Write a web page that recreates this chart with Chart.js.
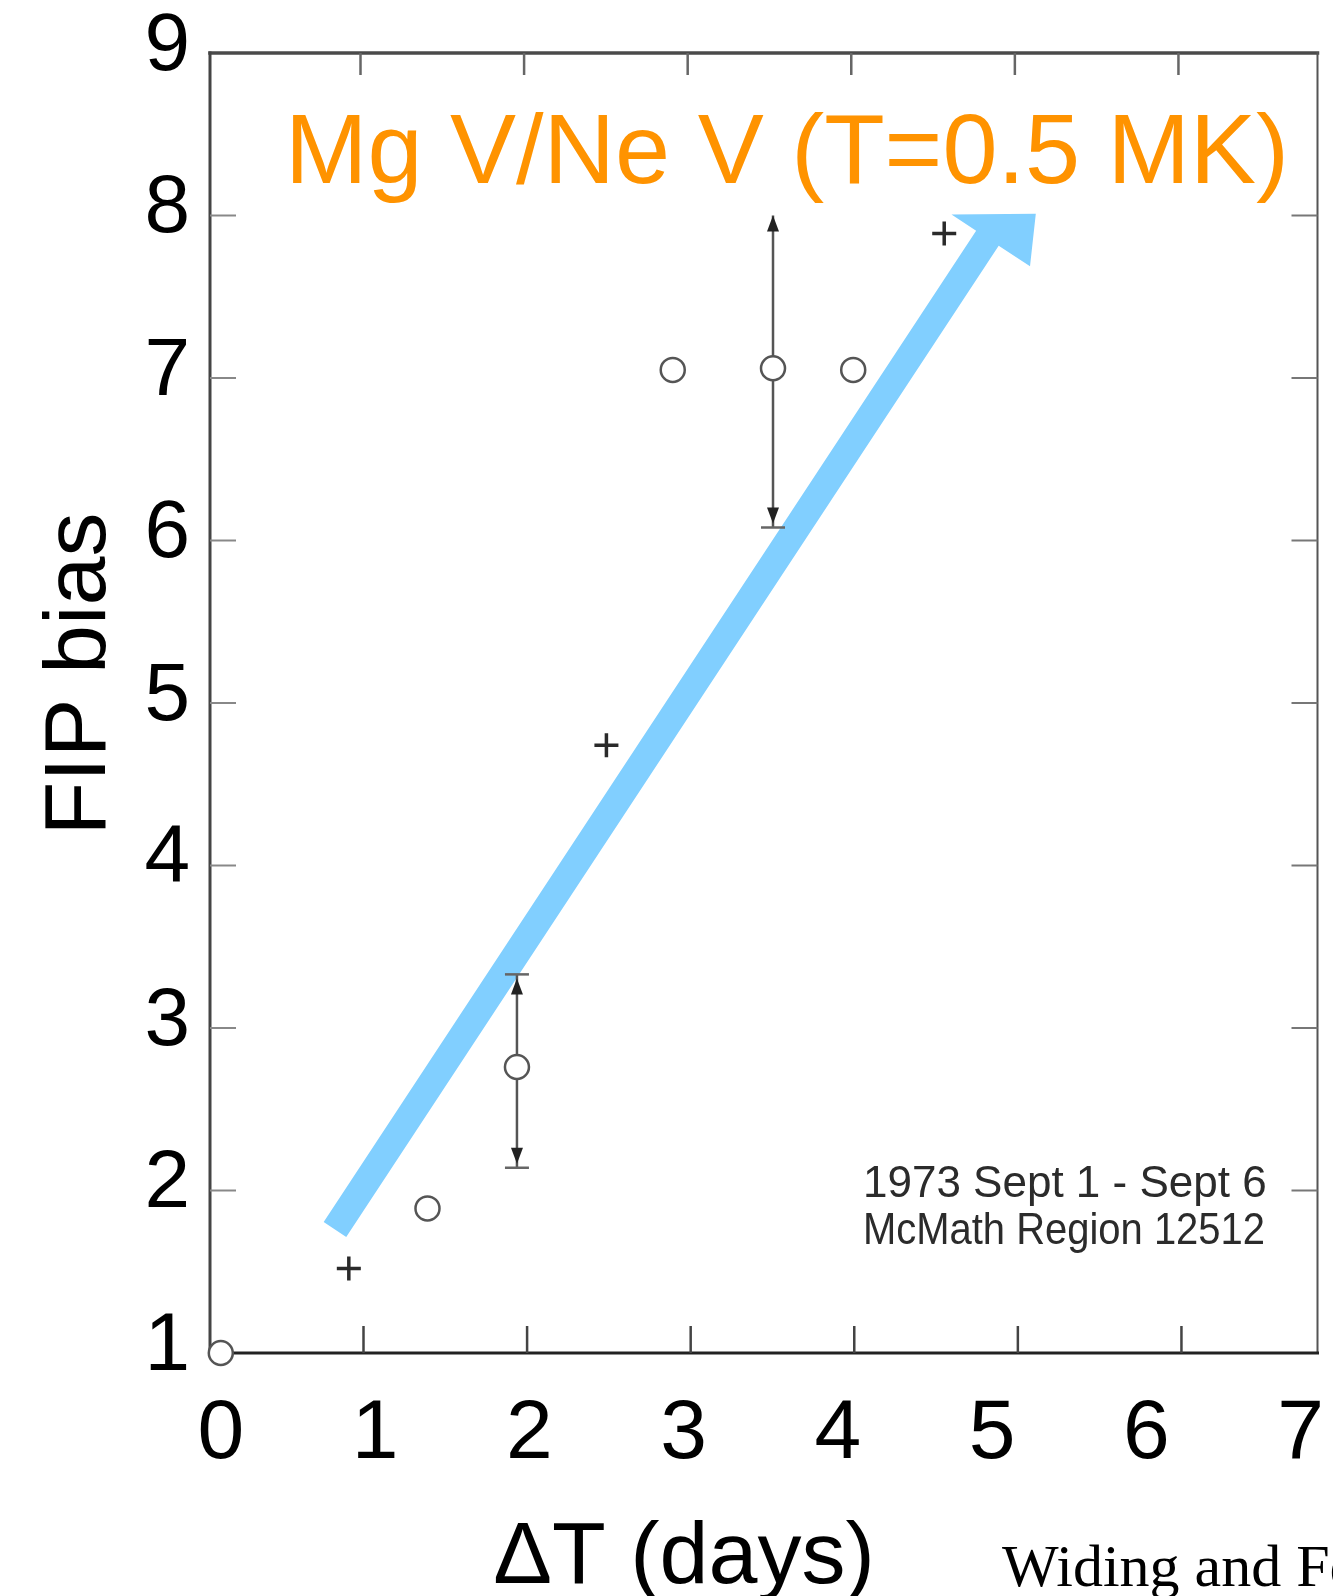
<!DOCTYPE html>
<html lang="en">
<head>
    <meta charset="UTF-8">
    <title>FIP bias vs ΔT</title>
    <script src="https://cdn.jsdelivr.net/npm/chart.js"></script>
    <style>
        body {
    margin: 0;
    background: #ffffff;
}

canvas {
    display: block;
}
    </style>
</head>
<body>
    <canvas id="fipChart" width="1333" height="1596"></canvas>

    <script>
        // data (x = ΔT in days, y = FIP bias)
        const circleX = [0.0, 1.34, 1.92, 2.93, 3.58, 4.10];
        const circleY = [1.0, 1.89, 2.76, 7.05, 7.06, 7.05];
        const plusX = [0.83, 2.50, 4.69];
        const plusY = [1.52, 4.74, 7.89];

        // error bars
        const errX = [1.92, 3.58];
        const errLow = [2.14, 6.08];
        const errHigh = [3.33, 8.0];
        const errTopCap = [true, false];

        // trend arrow (tail and base of the head, data units)
        const arrowFrom = [0.74, 1.76];
        const arrowTo = [4.97, 7.86];

        const xTicks = [0, 1, 2, 3, 4, 5, 6, 7];
        const yTicks = [1, 2, 3, 4, 5, 6, 7, 8, 9];
        const innerXTicks = [1, 2, 3, 4, 5, 6];   // ticks of the scanned frame
        const innerYTicks = [2, 3, 4, 5, 6, 7, 8];

        const titleText = 'Mg V/Ne V (T=0.5 MK)';
        const insetLines = ['1973 Sept 1 - Sept 6', 'McMath Region 12512'];
        const xTitle = 'ΔT (days)';
        const yTitle = 'FIP bias';
        const caption = 'Widing and Feldman';

        const FONT = '"Liberation Sans", Arial, sans-serif';

        function seg(ctx, x1, y1, x2, y2, color, w) {
            ctx.strokeStyle = color;
            ctx.lineWidth = w;
            ctx.beginPath();
            ctx.moveTo(x1, y1);
            ctx.lineTo(x2, y2);
            ctx.stroke();
        }

        function tri(ctx, x, tipY, dir) {
            // small filled arrowhead, dir -1 = up, +1 = down
            ctx.beginPath();
            ctx.moveTo(x, tipY);
            ctx.lineTo(x - 6, tipY - dir * 16);
            ctx.lineTo(x + 6, tipY - dir * 16);
            ctx.closePath();
            ctx.fill();
        }

        // text squeezed to a given width (the scanned label is narrower than Arial)
        function fitText(ctx, txt, x, y, w) {
            const m = ctx.measureText(txt).width;
            ctx.save();
            ctx.translate(x, y);
            ctx.scale(Math.min(1, w / m), 1);
            ctx.fillText(txt, 0, 0);
            ctx.restore();
        }

        const decorPlugin = {
            id: 'decor',
            beforeDatasetsDraw(chart) {
                const { ctx, chartArea: a, scales: { x, y, xi } } = chart;
                ctx.save();
                ctx.lineCap = 'square';

                // frame of the scanned plot
                seg(ctx, a.left, a.top, a.right, a.top, '#4a4a4a', 3.5);
                seg(ctx, a.right, a.top, a.right, a.bottom, '#555', 2);
                seg(ctx, a.left, a.top, a.left, a.bottom, '#444', 3);
                seg(ctx, a.left, a.bottom, a.right, a.bottom, '#222', 3);

                ctx.lineCap = 'butt';
                innerXTicks.forEach(v => {
                    const px = xi.getPixelForValue(v);
                    seg(ctx, px, a.top, px, a.top + 22, '#666', 2.5);
                    seg(ctx, px + 3, a.bottom, px + 3, a.bottom - 27, '#444', 2.5);
                });
                innerYTicks.forEach(v => {
                    const py = y.getPixelForValue(v);
                    seg(ctx, a.left, py, a.left + 26, py, '#888', 2);
                    seg(ctx, a.right, py, a.right - 26, py, '#777', 2);
                });

                // blue trend arrow
                const sx = x.getPixelForValue(arrowFrom[0]), sy = y.getPixelForValue(arrowFrom[1]);
                const nx = x.getPixelForValue(arrowTo[0]), ny = y.getPixelForValue(arrowTo[1]);
                const len = Math.hypot(nx - sx, ny - sy);
                const ux = (nx - sx) / len, uy = (ny - sy) / len;
                const px = -uy, py = ux;
                const hw = 13.5;
                ctx.fillStyle = '#81cfff';
                ctx.beginPath();
                ctx.moveTo(sx + px * hw, sy + py * hw);
                ctx.lineTo(nx + px * hw, ny + py * hw);
                ctx.lineTo(nx + px * 51, ny + py * 51);
                ctx.lineTo(nx + ux * 47 + px * 27, ny + uy * 47 + py * 27);
                ctx.lineTo(nx - px * 43, ny - py * 43);
                ctx.lineTo(nx - px * hw, ny - py * hw);
                ctx.lineTo(sx - px * hw, sy - py * hw);
                ctx.closePath();
                ctx.fill();

                // error bars
                ctx.fillStyle = '#222';
                errX.forEach((v, i) => {
                    const ex = x.getPixelForValue(v);
                    const top = y.getPixelForValue(errHigh[i]);
                    const bot = y.getPixelForValue(errLow[i]);
                    seg(ctx, ex, top, ex, bot, '#555', 2.5);
                    if (errTopCap[i]) {
                        seg(ctx, ex - 12, top, ex + 12, top, '#666', 2.5);
                        tri(ctx, ex, top + 4, -1);
                    } else {
                        tri(ctx, ex, top, -1);
                    }
                    seg(ctx, ex - 12, bot, ex + 12, bot, '#666', 2.5);
                    tri(ctx, ex, bot - 4, 1);
                });
                ctx.restore();
            },
            afterDraw(chart) {
                const { ctx, chartArea: a } = chart;
                ctx.save();
                ctx.textAlign = 'left';
                ctx.textBaseline = 'alphabetic';

                ctx.fillStyle = '#ff9300';
                ctx.font = '99px ' + FONT;
                ctx.fillText(titleText, a.left + 75, a.top + 130);

                ctx.fillStyle = '#2b2b2b';
                ctx.font = '44px ' + FONT;
                fitText(ctx, insetLines[0], 863, 1197, 404);
                fitText(ctx, insetLines[1], 863, 1244, 402);

                ctx.fillStyle = '#000';
                ctx.font = '88px ' + FONT;
                ctx.textAlign = 'center';
                ctx.fillText(xTitle, 684, 1583);

                ctx.translate(105, 674);
                ctx.rotate(-Math.PI / 2);
                ctx.fillText(yTitle, 0, 0);
                ctx.setTransform(1, 0, 0, 1, 0, 0);

                ctx.textAlign = 'left';
                ctx.font = '60px "Liberation Serif", "Times New Roman", serif';
                ctx.fillText(caption, 1002, 1586);
                ctx.restore();
            }
        };

        const ctx = document.getElementById('fipChart').getContext('2d');
        const fipChart = new Chart(ctx, {
            type: 'scatter',
            data: {
                datasets: [
                    {
                        label: 'open circles',
                        data: circleX.map((v, i) => ({ x: v, y: circleY[i] })),
                        pointStyle: 'circle',
                        pointRadius: 12,
                        borderWidth: 2.5,
                        borderColor: '#555',
                        backgroundColor: '#fff',
                        clip: false
                    },
                    {
                        label: 'crosses',
                        data: plusX.map((v, i) => ({ x: v, y: plusY[i] })),
                        pointStyle: 'cross',
                        pointRadius: 12,
                        borderWidth: 3.5,
                        borderColor: '#2a2a2a',
                        clip: false
                    }
                ]
            },
            options: {
                responsive: false,
                devicePixelRatio: 1,
                animation: false,
                layout: { padding: { top: 53, right: 3, left: 0, bottom: 0 } },
                plugins: {
                    legend: { display: false },
                    tooltip: { enabled: false }
                },
                scales: {
                    x: {
                        type: 'linear',
                        min: -0.07,
                        max: 7.11,
                        afterBuildTicks: s => { s.ticks = xTicks.map(v => ({ value: v })); },
                        afterFit: s => { s.height = 243; s.paddingLeft = 0; s.paddingRight = 0; },
                        grid: { display: false, drawTicks: false },
                        border: { display: false },
                        ticks: {
                            autoSkip: false,
                            maxRotation: 0,
                            padding: 31,
                            color: '#000',
                            font: { family: FONT, size: 84 }
                        }
                    },
                    xi: {
                        type: 'linear',
                        display: false,
                        position: 'top',
                        min: 0.08,
                        max: 6.85
                    },
                    y: {
                        type: 'linear',
                        min: 1,
                        max: 9,
                        afterBuildTicks: s => { s.ticks = yTicks.map(v => ({ value: v })); },
                        afterFit: s => { s.width = 210; s.paddingTop = 0; s.paddingBottom = 0; },
                        grid: { display: false, drawTicks: false },
                        border: { display: false },
                        ticks: {
                            padding: 20,
                            labelOffset: -6,
                            color: '#000',
                            font: { family: FONT, size: 82 }
                        }
                    }
                }
            },
            plugins: [decorPlugin]
        });
    </script>
</body>
</html>
